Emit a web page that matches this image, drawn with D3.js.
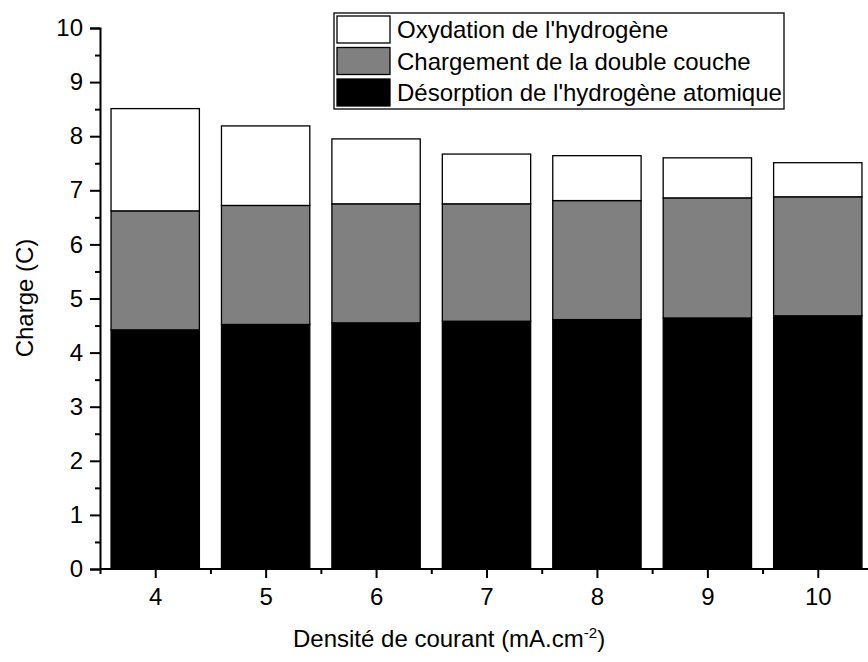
<!DOCTYPE html>
<html>
<head>
<meta charset="utf-8">
<script src="https://cdn.jsdelivr.net/npm/d3@7"></script>
<style>
  html, body { margin: 0; padding: 0; background: #fff; }
  svg { display: block; font-family: "Liberation Sans", Arial, sans-serif; }
</style>
</head>
<body>
<svg id="chart" width="868" height="662"></svg>
<script>
// ---- data ----
const categories = [4, 5, 6, 7, 8, 9, 10];
const desorption = [4.42, 4.52, 4.55, 4.58, 4.61, 4.64, 4.68];   // black
const chargement = [2.20, 2.20, 2.20, 2.17, 2.20, 2.22, 2.20];   // gray
const oxydation  = [1.89, 1.47, 1.20, 0.92, 0.83, 0.74, 0.63];   // white
const seriesNames = ["Désorption de l'hydrogène atomique", "Chargement de la double couche", "Oxydation de l'hydrogène"];
const seriesColors = ["#000000", "#808080", "#ffffff"];
const yTicks = [0, 1, 2, 3, 4, 5, 6, 7, 8, 9, 10];
const xTicks = [4, 5, 6, 7, 8, 9, 10];

const rows = categories.map((c, i) => ({ cat: c, s0: desorption[i], s1: chargement[i], s2: oxydation[i] }));
const stack = d3.stack().keys(["s0", "s1", "s2"]);
const stacked = stack(rows);

const svg = d3.select("#chart");
const x = d3.scaleLinear().domain([3.5, 10.5]).range([100, 873]);
const y = d3.scaleLinear().domain([0, 10]).range([569, 28]);
const barW = 0.8;
const fontSize = 24;

// bars
stacked.forEach((layer, li) => {
  svg.append("g")
    .selectAll("rect")
    .data(layer)
    .join("rect")
    .attr("x", d => x(d.data.cat - barW / 2))
    .attr("width", d => x(d.data.cat + barW / 2) - x(d.data.cat - barW / 2))
    .attr("y", d => y(d[1]))
    .attr("height", d => y(d[0]) - y(d[1]))
    .attr("fill", seriesColors[li])
    .attr("stroke", "#000")
    .attr("stroke-width", 1.3);
});

// y axis
const yAxis = svg.append("g").attr("transform", "translate(100,0)")
  .call(d3.axisLeft(y).tickValues(yTicks).tickSize(10).tickPadding(7).tickFormat(d3.format("d")));
const yMinor = svg.append("g").attr("transform", "translate(100,0)")
  .call(d3.axisLeft(y).tickValues(d3.range(0.5, 10, 1)).tickSize(5).tickFormat(""));

// x axis
const xAxis = svg.append("g").attr("transform", "translate(0,569)")
  .call(d3.axisBottom(x).tickValues(xTicks).tickSize(9).tickPadding(10).tickFormat(d3.format("d")));
const xMinor = svg.append("g").attr("transform", "translate(0,569)")
  .call(d3.axisBottom(x).tickValues(d3.range(3.5, 11, 1)).tickSize(5).tickFormat(""));

[yAxis, yMinor, xAxis, xMinor].forEach(g => {
  g.selectAll(".domain").attr("stroke", "#000").attr("stroke-width", 2);
  g.selectAll(".tick line").attr("stroke", "#000").attr("stroke-width", 2);
  g.selectAll("text").attr("font-size", fontSize).attr("fill", "#000")
    .attr("font-family", "'Liberation Sans', Arial, sans-serif");
});
yMinor.select(".domain").remove();
xMinor.select(".domain").remove();
xAxis.select(".domain").attr("d", "M100,0H873");

// axis titles
svg.append("text")
  .attr("transform", "translate(33,298) rotate(-90)")
  .attr("text-anchor", "middle")
  .attr("font-size", fontSize)
  .text("Charge (C)");

const xt = svg.append("text")
  .attr("x", 293).attr("y", 647)
  .attr("font-size", fontSize);
xt.append("tspan").text("Densité de courant (mA.cm");
xt.append("tspan").attr("font-size", 15).attr("dy", -9).text("-2");
xt.append("tspan").attr("dy", 9).text(")");

// legend
const legend = svg.append("g");
legend.append("rect")
  .attr("x", 334).attr("y", 13).attr("width", 450).attr("height", 96)
  .attr("fill", "#fff").attr("stroke", "#000").attr("stroke-width", 1.3);
const legendOrder = [2, 1, 0];
legendOrder.forEach((si, i) => {
  const top = 16 + i * 31.5;
  legend.append("rect")
    .attr("x", 337).attr("y", top).attr("width", 53).attr("height", 27)
    .attr("fill", seriesColors[si]).attr("stroke", "#000").attr("stroke-width", 1.3);
  legend.append("text")
    .attr("x", 397).attr("y", top + 22)
    .attr("font-size", fontSize)
    .text(seriesNames[si]);
});
</script>
</body>
</html>
